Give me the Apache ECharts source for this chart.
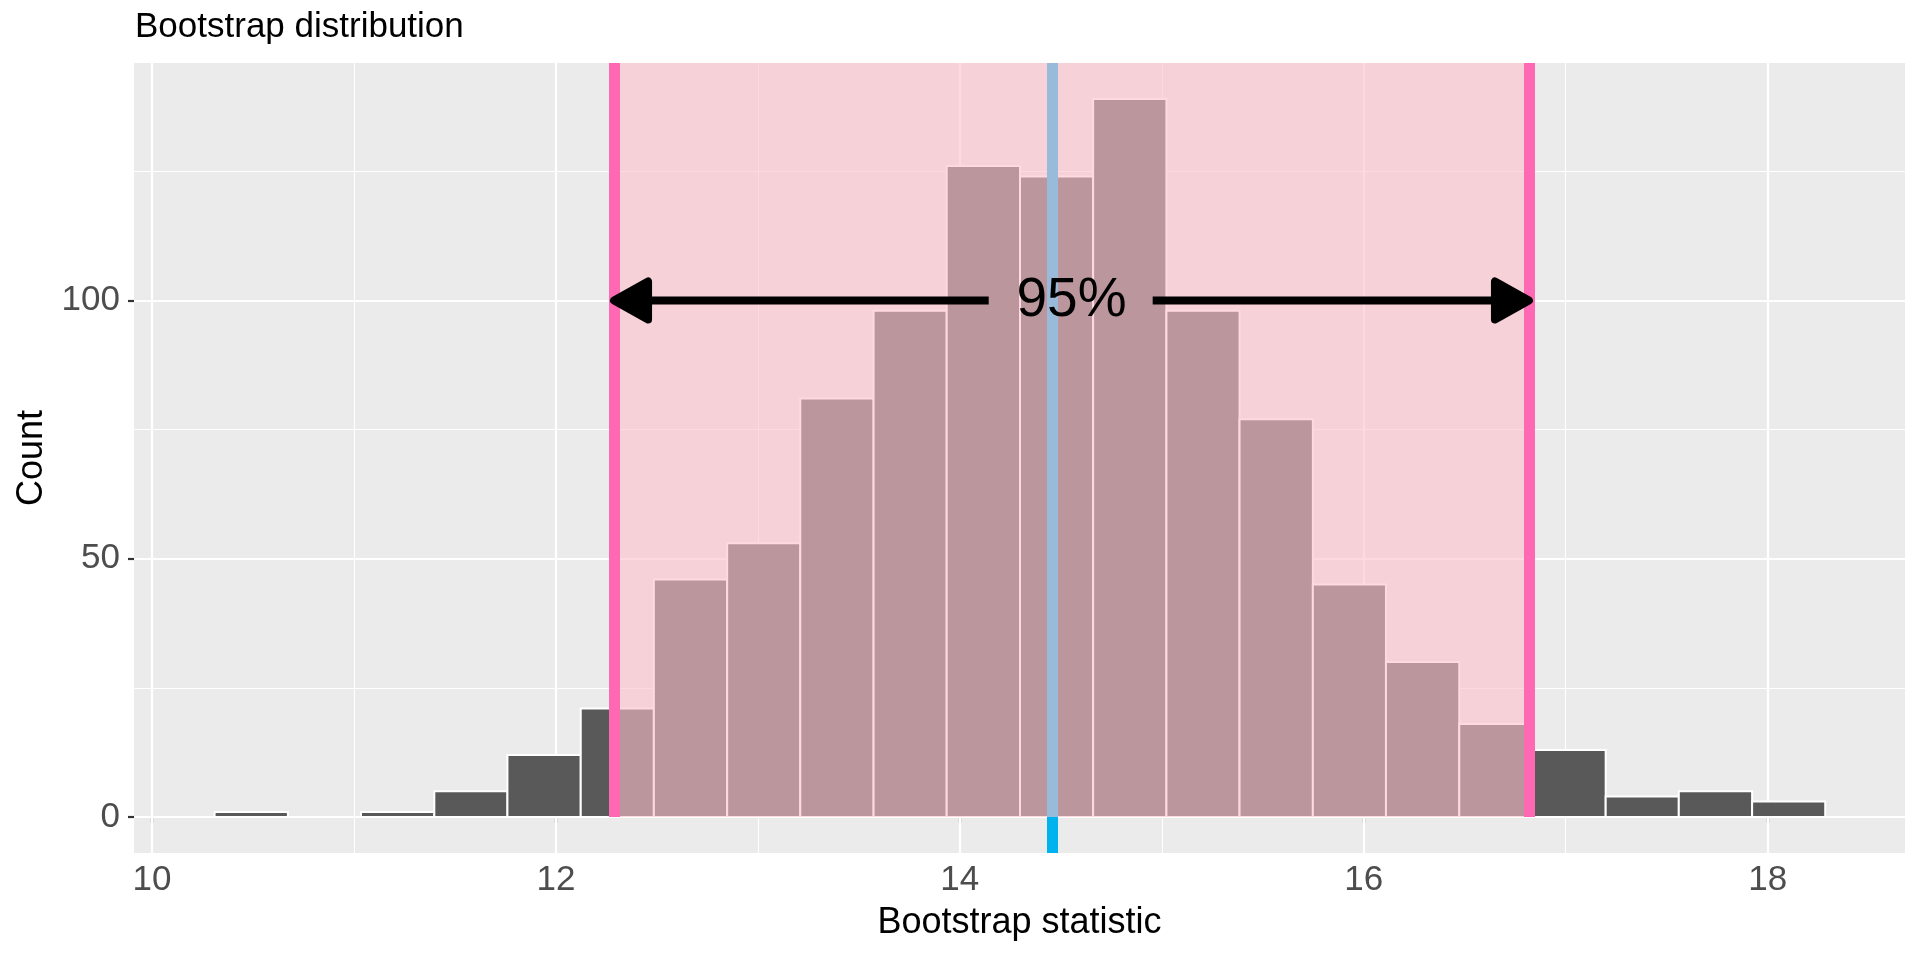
<!DOCTYPE html>
<html>
<head>
<meta charset="utf-8">
<title>Bootstrap distribution</title>
<script src="https://cdn.jsdelivr.net/npm/echarts@6/dist/echarts.min.js"></script>
<style>
  html, body { margin: 0; padding: 0; background: #fff; }
  #chart { width: 1920px; height: 960px; }
</style>
</head>
<body>
<div id="chart"></div>
<script>
// histogram bins (edges) and counts
var binEdges = [10.310, 10.673, 11.035, 11.398, 11.760, 12.123, 12.485, 12.848, 13.210, 13.573, 13.935,
                14.298, 14.660, 15.023, 15.385, 15.748, 16.110, 16.473, 16.835, 17.198, 17.560, 17.923, 18.285];
var counts = [1, 0, 1, 5, 12, 21, 46, 53, 81, 98, 126, 124, 139, 98, 77, 45, 30, 18, 13, 4, 5, 3];

// annotations
var obsStat = 14.464;
var ciBounds = [12.288, 16.818];
// [from, to, y, head side (-1 = at from, 1 = at to)]
var arrowSegments = [[12.288, 14.143, 100, -1], [14.955, 16.818, 100, 1]];
var ciLabel = [[14.553, 100, '95%']];

// axes
var xRange = [9.911, 18.68];
var yRange = [-6.95, 145.95];
var xMajor = [10, 12, 14, 16, 18];
var xMinor = [11, 13, 15, 17];
var yMajor = [0, 50, 100];
var yMinor = [25, 75, 125];

var FONT = '"Liberation Sans", Arial, Helvetica, sans-serif';

var histData = [];
for (var i = 0; i < counts.length; i++) {
  histData.push([binEdges[i], binEdges[i + 1], counts[i]]);
}

var gridLines = [];
xMajor.forEach(function(v){ gridLines.push({xAxis: v, lineStyle: {width: 2.2}}); });
xMinor.forEach(function(v){ gridLines.push({xAxis: v, lineStyle: {width: 1.1}}); });
yMajor.forEach(function(v){ gridLines.push({yAxis: v, lineStyle: {width: 2.2}}); });
yMinor.forEach(function(v){ gridLines.push({yAxis: v, lineStyle: {width: 1.1}}); });

var chart = echarts.init(document.getElementById('chart'));

var option = {
  animation: false,
  backgroundColor: '#ffffff',
  title: {
    text: 'Bootstrap distribution',
    left: 135,
    top: 10,
    padding: 0,
    textStyle: { fontFamily: FONT, fontSize: 35, fontWeight: 'normal', color: '#000' }
  },
  grid: {
    left: 134, right: 15, top: 63, bottom: 107,
    show: true, backgroundColor: '#EBEBEB', borderWidth: 0
  },
  xAxis: {
    type: 'value',
    min: xRange[0], max: xRange[1],
    name: 'Bootstrap statistic',
    nameLocation: 'middle',
    nameGap: 52,
    nameTextStyle: { fontFamily: FONT, fontSize: 36, color: '#000' },
    axisLine: { show: false },
    axisTick: { show: true, length: 6, customValues: xMajor, lineStyle: { color: '#333333', width: 2.2 } },
    axisLabel: { customValues: xMajor, margin: 10, fontFamily: FONT, fontSize: 35, color: '#4D4D4D' },
    splitLine: { show: false }
  },
  yAxis: {
    type: 'value',
    min: yRange[0], max: yRange[1],
    name: 'Count',
    nameLocation: 'middle',
    nameGap: 84,
    nameRotate: 90,
    nameTextStyle: { fontFamily: FONT, fontSize: 36, color: '#000' },
    axisLine: { show: false },
    axisTick: { show: true, length: 6, customValues: yMajor, lineStyle: { color: '#333333', width: 2.2 } },
    axisLabel: { customValues: yMajor, margin: 14, fontFamily: FONT, fontSize: 35, color: '#4D4D4D' },
    splitLine: { show: false }
  },
  series: [
    {
      // panel grid
      type: 'line', z: 1, data: [], silent: true,
      markLine: {
        z: 1, silent: true, symbol: 'none', label: { show: false },
        lineStyle: { color: '#ffffff', type: 'solid' },
        emphasis: { disabled: true },
        data: gridLines
      }
    },
    {
      type: 'custom', z: 2, silent: true,
      encode: { x: [0, 1], y: 2 },
      data: histData,
      renderItem: function(params, api) {
        var p0 = api.coord([api.value(0), api.value(2)]);
        var p1 = api.coord([api.value(1), 0]);
        return {
          type: 'rect',
          shape: { x: p0[0], y: p0[1], width: p1[0] - p0[0], height: p1[1] - p0[1] },
          style: { fill: '#595959', stroke: '#ffffff', lineWidth: 2 }
        };
      }
    },
    {
      // observed statistic
      type: 'line', z: 3, data: [], silent: true,
      markLine: {
        z: 3, silent: true, symbol: 'none', label: { show: false },
        emphasis: { disabled: true },
        lineStyle: { color: '#00B2EE', width: 11, type: 'solid' },
        data: [{ xAxis: obsStat }]
      }
    },
    {
      // confidence interval shading
      type: 'line', z: 4, data: [], silent: true,
      markArea: {
        z: 4, silent: true,
        itemStyle: { color: 'rgba(255,192,203,0.6)' },
        emphasis: { disabled: true },
        data: [[{ coord: [ciBounds[0], 0] }, { coord: [ciBounds[1], yRange[1]] }]]
      }
    },
    {
      type: 'line', z: 5, data: [], silent: true,
      markLine: {
        z: 5, silent: true, symbol: 'none', label: { show: false },
        emphasis: { disabled: true },
        lineStyle: { color: '#FF69B4', width: 11, type: 'solid' },
        data: ciBounds.map(function(b){
          return [{ coord: [b, 0] }, { coord: [b, yRange[1]] }];
        })
      }
    },
    {
      // double arrow
      type: 'custom', z: 6, silent: true,
      encode: { x: [0, 1], y: 2 },
      data: arrowSegments,
      renderItem: function(params, api) {
        var a = api.coord([api.value(0), api.value(2)]);
        var b = api.coord([api.value(1), api.value(2)]);
        var side = api.value(3);
        var tip = side < 0 ? a : b;
        var tail = side < 0 ? b : a;
        var dir = side < 0 ? 1 : -1;
        var headLen = 34, half = 19;
        var base = tip[0] + dir * headLen;
        return {
          type: 'group',
          children: [
            {
              type: 'line',
              shape: { x1: tail[0], y1: tail[1], x2: base, y2: tip[1] },
              style: { stroke: '#000', lineWidth: 8 }
            },
            {
              type: 'polygon',
              shape: { points: [[tip[0], tip[1]], [base, tip[1] - half], [base, tip[1] + half]] },
              style: { fill: '#000', stroke: '#000', lineWidth: 8, lineJoin: 'round' }
            }
          ]
        };
      }
    },
    {
      type: 'scatter', z: 7, silent: true,
      symbolSize: 0,
      itemStyle: { opacity: 1 },
      data: ciLabel,
      label: {
        show: true, position: 'inside', opacity: 1,
        formatter: function(p){ return p.data[2]; },
        fontFamily: FONT, fontSize: 55, color: '#000000', textBorderWidth: 0
      }
    }
  ]
};

chart.setOption(option);
</script>
</body>
</html>
